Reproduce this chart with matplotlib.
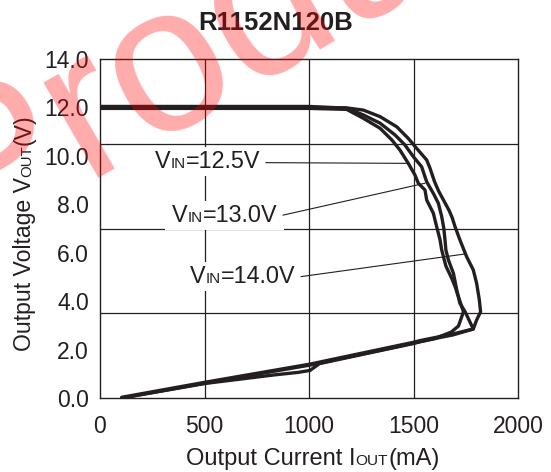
import numpy as np
import matplotlib
matplotlib.use("Agg")
import matplotlib.pyplot as plt
from matplotlib.patches import Rectangle
from matplotlib.text import Annotation
from matplotlib.transforms import Bbox, IdentityTransform

plt.rcParams['font.family'] = ['Liberation Sans', 'DejaVu Sans']

# output current (mA) / output voltage (V)
iout_125 = [0, 1000, 1180, 1260, 1340, 1396, 1435, 1475, 1507, 1523, 1555, 1563,
            1595, 1611, 1627, 1635, 1655, 1683, 1699, 1715, 1731, 1739, 1715, 1680,
            1600, 1531, 1499, 1050, 1005, 950, 830, 502, 104]
vout_125 = [11.96, 11.96, 11.92, 11.55, 11.14, 10.66, 10.24, 9.69, 9.21, 8.87, 8.59, 8.18,
            7.63, 7.07, 6.53, 6.11, 5.45, 4.94, 4.60, 4.18, 3.77, 3.56, 2.97, 2.72,
            2.45, 2.32, 2.25, 1.42, 1.14, 1.06, 0.95, 0.60, 0.0]

iout_130 = [0, 1000, 1180, 1260, 1340, 1412, 1459, 1499, 1539, 1563, 1595, 1619,
            1635, 1645, 1651, 1655, 1667, 1691, 1707, 1722, 1747, 1786, 1691, 1531,
            1499, 1005, 502, 104]
vout_130 = [12.04, 12.04, 11.97, 11.69, 11.35, 10.86, 10.45, 9.97, 9.55, 8.93, 8.45, 8.04,
            7.49, 7.01, 6.50, 6.11, 5.70, 5.15, 4.46, 3.91, 3.56, 2.85, 2.65, 2.37,
            2.30, 1.40, 0.65, 0.03]

iout_140 = [0, 1000, 1180, 1260, 1340, 1420, 1475, 1515, 1563, 1579, 1600, 1620,
            1645, 1670, 1685, 1699, 1722, 1754, 1786, 1802, 1815, 1821, 1802, 1786,
            1691, 1531, 1499, 1005, 502, 104]
vout_140 = [12.0, 12.0, 11.98, 11.89, 11.62, 11.2, 10.72, 10.31, 9.83, 9.49, 8.95, 8.55,
            8.15, 7.75, 7.45, 7.07, 6.53, 5.84, 5.29, 4.74, 4.05, 3.56, 3.22, 2.85,
            2.61, 2.33, 2.26, 1.36, 0.61, 0.0]

x_ticks = [0, 500, 1000, 1500, 2000]
y_ticks = [0, 2, 4, 6, 8, 10, 12, 14]
x_grid = [500, 1000, 1500]
y_grid = [3.5, 7.0, 10.5]

vin_labels = ['12.5V', '13.0V', '14.0V']
label_pos = [(263, 9.50), (345, 7.28), (431, 4.76)]
leader_tip = [(1468, 9.69), (1555, 8.87), (1748, 5.95)]

INK = '#231f20'
SMALL = 0.65


def add_ann(parent, s, prev, offset, size, **kw):
    a = Annotation(s, xy=kw.pop('xy'), xycoords=prev, xytext=offset,
                   textcoords='offset points', fontsize=size, color=INK, **kw)
    parent.add_artist(a)
    return a


def hchain(parent, x, y, parts, size, transform, zorder=3):
    # pieces of text on one baseline, the small caps pieces set smaller
    d = 0.21 * size
    out = []
    prev, prev_sc = None, 1.0
    for s, sc in parts:
        if prev is None:
            t = parent.text(x, y, s, fontsize=size * sc, transform=transform,
                            ha='left', va='baseline', color=INK, zorder=zorder)
        else:
            t = add_ann(parent, s, prev, (0, d * (prev_sc - sc)), size * sc,
                        xy=(1, 0), ha='left', va='bottom', zorder=zorder)
        out.append(t)
        prev, prev_sc = t, sc
    return out


def vchain(fig, x, y, parts, size):
    d = 0.21 * size
    prev, prev_sc = None, 1.0
    for s, sc in parts:
        if prev is None:
            t = fig.text(x, y, s, fontsize=size * sc, rotation=90,
                         ha='right', va='bottom', color=INK)
        else:
            t = add_ann(fig, s, prev, (d * (sc - prev_sc), 0), size * sc,
                        xy=(1, 1), rotation=90, ha='right', va='bottom')
        prev, prev_sc = t, sc


fig = plt.figure(figsize=(5.51, 4.72), dpi=100)
ax = fig.add_axes([100 / 551, 1 - 398 / 472, 418 / 551, 339 / 472])

for xs, ys in [(iout_125, vout_125), (iout_130, vout_130), (iout_140, vout_140)]:
    ax.plot(xs, ys, color=INK, lw=2.4, solid_joinstyle='round',
            solid_capstyle='round', zorder=4)

ax.set_xlim(0, 2000)
ax.set_ylim(0, 14)
ax.set_xticks(x_ticks)
ax.set_xticklabels([str(v) for v in x_ticks])
ax.set_yticks(y_ticks)
ax.set_yticklabels(['%.1f' % v for v in y_ticks])
ax.tick_params(length=0, labelsize=16.5, colors=INK)
ax.tick_params(axis='x', pad=12)
ax.tick_params(axis='y', pad=8)
for v in x_grid:
    ax.axvline(v, color=INK, lw=0.9, zorder=1)
for v in y_grid:
    ax.axhline(v, color=INK, lw=0.9, zorder=1)
for sp in ax.spines.values():
    sp.set_linewidth(1.0)
    sp.set_color(INK)

# V_IN labels with leader lines
groups = []
for lab, (lx, ly), tip in zip(vin_labels, label_pos, leader_tip):
    pieces = hchain(ax, lx, ly, [('V', 1.0), ('IN', SMALL), ('=' + lab, 1.0)],
                    16.8, ax.transData)
    groups.append(pieces)
    ax.annotate('', xy=tip, xycoords='data', xytext=(1, 0.45), textcoords=pieces[-1],
                arrowprops=dict(arrowstyle='-', lw=0.8, color=INK,
                                shrinkA=4, shrinkB=0), zorder=3)

fig.text(0.5, 1 - 30 / 472, 'R1152N120B', ha='center', va='baseline',
         fontsize=18.5, fontweight='bold', color=INK)

hchain(fig, 186 / 551, 1 - 465 / 472,
       [('Output Current I', 1.0), ('OUT', SMALL), ('(mA)', 1.0)], 17, fig.transFigure)
vchain(fig, 36 / 551, 1 - 351 / 472,
       [('Output Voltage V', 1.0), ('OUT', SMALL), ('(V)', 1.0)], 16.6)

# watermark
fig.text(-35 / 551, 1 - 245 / 472, 'Product', fontsize=150, rotation=30,
         rotation_mode='anchor', ha='left', va='baseline',
         color='red', alpha=0.33, zorder=10)

# white boxes behind the V_IN labels (they cut the grid lines)
fig.canvas.draw()
r = fig.canvas.get_renderer()
for pieces in groups:
    bb = Bbox.union([t.get_window_extent(r) for t in pieces])
    ax.add_patch(Rectangle((bb.x0 - 7, bb.y0 - 3), bb.width + 14, bb.height + 6,
                           transform=IdentityTransform(), facecolor='white',
                           edgecolor='none', zorder=2))

fig.savefig('out.png', dpi=100)
